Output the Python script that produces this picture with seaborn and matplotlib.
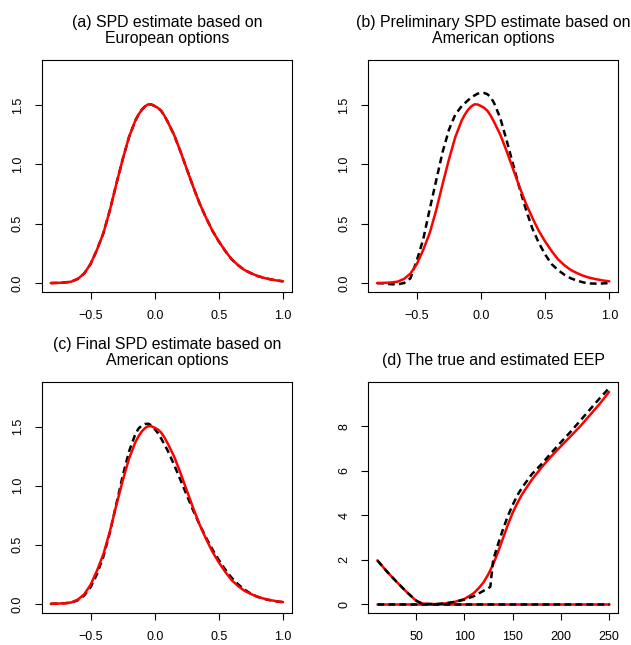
import matplotlib
matplotlib.use("Agg")
import matplotlib.pyplot as plt
import seaborn as sns
import numpy as np
import pandas as pd

# ---------------- data ----------------
spd_x = [-0.81, -0.75, -0.70, -0.65, -0.60, -0.55, -0.50, -0.45, -0.40, -0.35,
         -0.30, -0.25, -0.20, -0.15, -0.125, -0.10, -0.075, -0.05, -0.025,
         0.00, 0.025, 0.05, 0.075, 0.10, 0.15,
         0.20, 0.25, 0.30, 0.35, 0.40, 0.45, 0.50, 0.55, 0.60, 0.65,
         0.70, 0.75, 0.80, 0.85, 0.90, 0.95, 1.00]

# true SPD (red)
spd_true = [0.0, 0.002, 0.005, 0.012, 0.035, 0.08, 0.16, 0.28, 0.42, 0.61,
            0.83, 1.04, 1.23, 1.37, 1.42, 1.46, 1.488, 1.505, 1.503,
            1.49, 1.475, 1.45, 1.41, 1.36, 1.25,
            1.11, 0.96, 0.81, 0.67, 0.55, 0.44, 0.35, 0.27, 0.20, 0.15,
            0.11, 0.083, 0.06, 0.044, 0.032, 0.022, 0.015]

# (a) estimate from European options (coincides with the true SPD)
spd_est_a = list(spd_true)

# (b) preliminary estimate from American options
spd_est_b = [0.0, -0.003, -0.01, -0.01, 0.0, 0.04, 0.19, 0.37, 0.62, 0.86,
             1.10, 1.29, 1.42, 1.49, 1.515, 1.54, 1.562, 1.58, 1.595,
             1.60, 1.6, 1.59, 1.565, 1.52, 1.39,
             1.20, 1.00, 0.80, 0.62, 0.46, 0.34, 0.24, 0.16, 0.11, 0.07,
             0.04, 0.02, 0.005, -0.003, -0.005, -0.003, 0.0]

# (c) final estimate from American options
spd_est_c = [0.0, 0.002, 0.005, 0.01, 0.03, 0.07, 0.14, 0.25, 0.40, 0.60,
             0.84, 1.08, 1.29, 1.44, 1.485, 1.51, 1.522, 1.525, 1.51,
             1.48, 1.445, 1.40, 1.35, 1.30, 1.18,
             1.05, 0.92, 0.79, 0.67, 0.56, 0.46, 0.37, 0.29, 0.22, 0.165,
             0.12, 0.085, 0.06, 0.043, 0.03, 0.02, 0.014]

# (d) early exercise premium
eep_true_x = [10, 20, 30, 40, 50, 55, 60, 70, 80, 90, 100, 105, 110, 115, 120,
              125, 130, 135, 140, 145, 150, 155, 160, 170, 180, 190, 200, 210,
              220, 230, 240, 250]
eep_true = [1.97, 1.46, 1.0, 0.56, 0.16, 0.05, 0.01, 0.0, 0.03, 0.1, 0.23, 0.36,
            0.5, 0.72, 0.98, 1.35, 1.8, 2.35, 2.95, 3.55, 4.1, 4.55, 4.95, 5.6,
            6.15, 6.65, 7.1, 7.55, 8.0, 8.5, 9.0, 9.55]
eep_est_x = [10, 20, 30, 40, 50, 55, 60, 70, 80, 90, 100, 105, 110, 115, 120,
             125, 127, 128, 130, 135, 140, 145, 150, 155, 160, 170, 180, 190,
             200, 210, 220, 230, 240, 250]
eep_est = [1.97, 1.46, 1.0, 0.56, 0.16, 0.05, 0.01, 0.0, 0.03, 0.1, 0.2, 0.28,
           0.36, 0.48, 0.6, 0.72, 0.78, 1.2, 2.0, 2.7, 3.35, 3.95, 4.45, 4.9,
           5.25, 5.85, 6.3, 6.8, 7.28, 7.75, 8.25, 8.75, 9.25, 9.72]
zero_x = [10, 250]
zero_y = [0.0, 0.0]

titles = ["(a) SPD estimate based on\nEuropean options",
          "(b) Preliminary SPD estimate based on\nAmerican options",
          "(c) Final SPD estimate based on\nAmerican options",
          "(d) The true and estimated EEP"]
spd_xticks = [-0.5, 0.0, 0.5, 1.0]
spd_yticks = [0.0, 0.5, 1.0, 1.5]
eep_xticks = [50, 100, 150, 200, 250]
eep_yticks = [0, 2, 4, 6, 8]

# ---------------- style ----------------
sns.set_theme(style="white")
plt.rcParams["font.family"] = ["Liberation Sans", "DejaVu Sans"]
plt.rcParams["axes.edgecolor"] = "black"
plt.rcParams["axes.linewidth"] = 0.8
plt.rcParams["text.color"] = "black"

RED = "#ff0000"
LW = 1.8
DASH = (0, (2.7, 1.7))

fig = plt.figure(figsize=(6.31, 6.45), dpi=100)
L1, R1 = 0.0666, 0.4628
L2, R2 = 0.5837, 0.9799
TOP_B, TOP_T = 0.5473, 0.907
BOT_B, BOT_T = 0.0501, 0.4078
axa = fig.add_axes([L1, TOP_B, R1 - L1, TOP_T - TOP_B])
axb = fig.add_axes([L2, TOP_B, R2 - L2, TOP_T - TOP_B])
axc = fig.add_axes([L1, BOT_B, R1 - L1, BOT_T - BOT_B])
axd = fig.add_axes([L2, BOT_B, R2 - L2, BOT_T - BOT_B])


def line(ax, x, y, color, dashed=False):
    kw = dict(linestyle=DASH) if dashed else {}
    sns.lineplot(x=x, y=y, ax=ax, color=color, linewidth=LW,
                 estimator=None, sort=False, legend=False, **kw)


for ax, est in [(axa, spd_est_a), (axb, spd_est_b), (axc, spd_est_c)]:
    line(ax, spd_x, est, "black", dashed=True)
    line(ax, spd_x, spd_true, RED)
    ax.set_xlim(-0.878, 1.07)
    ax.set_ylim(-0.075, 1.878)
    ax.set_xticks(spd_xticks)
    ax.set_xticklabels(["\u22120.5", "0.0", "0.5", "1.0"])
    ax.set_yticks(spd_yticks)
    ax.set_yticklabels(["0.0", "0.5", "1.0", "1.5"])

line(axd, eep_true_x, eep_true, RED)
line(axd, zero_x, zero_y, RED)
line(axd, eep_est_x, eep_est, "black", dashed=True)
line(axd, zero_x, zero_y, "black", dashed=True)
axd.set_xlim(0.6, 259.6)
axd.set_ylim(-0.385, 10.0)
axd.set_xticks(eep_xticks)
axd.set_xticklabels([str(v) for v in eep_xticks])
axd.set_yticks(eep_yticks)
axd.set_yticklabels([str(v) for v in eep_yticks])

for ax, t in zip([axa, axb, axc, axd], titles):
    ax.set_title(t, fontsize=11.4, pad=10, va="bottom", linespacing=1.05,
                 color="black")
    ax.set_xlabel("")
    ax.set_ylabel("")
    for s in ax.spines.values():
        s.set_visible(True)
        s.set_color("black")
        s.set_linewidth(0.8)
    ax.tick_params(axis="both", which="major", direction="out", length=5,
                   width=0.8, color="black", labelsize=9, labelcolor="black",
                   bottom=True, left=True, top=False, right=False)
    ax.tick_params(axis="x", pad=8)
    ax.tick_params(axis="y", pad=8)
    for lab in ax.get_yticklabels():
        lab.set_rotation(90)
        lab.set_va("center")
    ax.grid(False)

fig.savefig("out.png", dpi=100, facecolor="white")
